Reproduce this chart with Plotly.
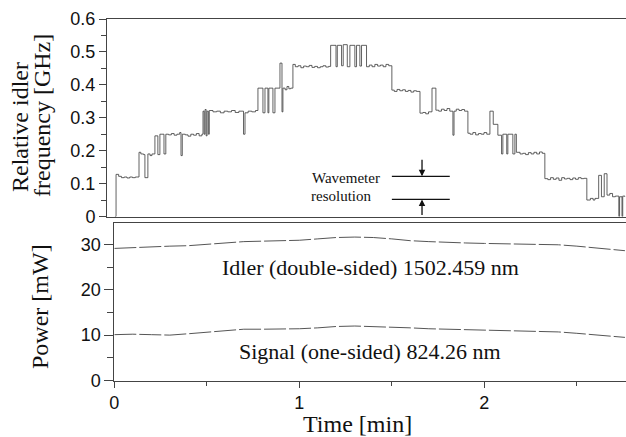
import plotly.graph_objects as go

# ---- Top panel: relative idler frequency (step trace) ----
freq_t = [0.000, 0.006, 0.020, 0.035, 0.050, 0.065, 0.080, 0.095, 0.110, 0.130, 0.140, 0.155, 0.162,
          0.178, 0.190, 0.200, 0.216, 0.232, 0.243, 0.265, 0.275, 0.290, 0.305, 0.320, 0.335, 0.350,
          0.357, 0.364, 0.380, 0.395, 0.410, 0.425, 0.440, 0.455, 0.470, 0.476, 0.482, 0.487, 0.493,
          0.498, 0.505, 0.510, 0.530, 0.550, 0.570, 0.590, 0.610, 0.630, 0.650, 0.670, 0.695, 0.703,
          0.720, 0.740, 0.760, 0.773, 0.800, 0.811, 0.827, 0.832, 0.854, 0.865, 0.892, 0.903, 0.908,
          0.920, 0.930, 0.940, 0.950, 0.962, 0.975, 0.990, 1.005, 1.020, 1.035, 1.050, 1.065, 1.080,
          1.095, 1.110, 1.125, 1.140, 1.155, 1.166, 1.195, 1.202, 1.225, 1.234, 1.256, 1.270, 1.297,
          1.306, 1.324, 1.333, 1.360, 1.375, 1.390, 1.405, 1.420, 1.435, 1.450, 1.465, 1.480, 1.497,
          1.510, 1.525, 1.540, 1.555, 1.570, 1.585, 1.600, 1.615, 1.630, 1.649, 1.665, 1.680, 1.695,
          1.714, 1.735, 1.750, 1.765, 1.780, 1.795, 1.810, 1.827, 1.833, 1.845, 1.860, 1.875, 1.890,
          1.908, 1.920, 1.935, 1.950, 1.965, 1.980, 1.995, 2.010, 2.027, 2.045, 2.070, 2.090, 2.097,
          2.118, 2.124, 2.151, 2.162, 2.170, 2.190, 2.205, 2.220, 2.235, 2.250, 2.265, 2.280, 2.295,
          2.310, 2.324, 2.340, 2.355, 2.370, 2.385, 2.400, 2.415, 2.430, 2.445, 2.460, 2.475, 2.490,
          2.505, 2.520, 2.535, 2.551, 2.570, 2.585, 2.595, 2.615, 2.630, 2.645, 2.660, 2.675, 2.690,
          2.705, 2.724, 2.728, 2.741, 2.745, 2.757]
freq_ghz = [0.000, 0.128, 0.122, 0.118, 0.120, 0.117, 0.120, 0.118, 0.120, 0.195, 0.190, 0.188, 0.118,
            0.190, 0.185, 0.190, 0.245, 0.188, 0.250, 0.190, 0.250, 0.248, 0.252, 0.247, 0.250, 0.255,
            0.185, 0.250, 0.248, 0.244, 0.250, 0.247, 0.252, 0.245, 0.250, 0.320, 0.250, 0.325, 0.245,
            0.320, 0.250, 0.322, 0.318, 0.320, 0.315, 0.320, 0.318, 0.322, 0.316, 0.320, 0.250, 0.315,
            0.320, 0.318, 0.322, 0.390, 0.315, 0.390, 0.315, 0.390, 0.315, 0.390, 0.466, 0.318, 0.390,
            0.385, 0.395, 0.388, 0.390, 0.462, 0.455, 0.458, 0.452, 0.457, 0.455, 0.459, 0.453, 0.456,
            0.452, 0.455, 0.458, 0.454, 0.456, 0.520, 0.455, 0.520, 0.458, 0.522, 0.455, 0.520, 0.455,
            0.520, 0.457, 0.520, 0.455, 0.460, 0.455, 0.462, 0.457, 0.460, 0.455, 0.462, 0.458, 0.384,
            0.380, 0.386, 0.382, 0.385, 0.380, 0.383, 0.378, 0.382, 0.380, 0.314, 0.316, 0.312, 0.318,
            0.390, 0.323, 0.320, 0.326, 0.322, 0.328, 0.320, 0.247, 0.320, 0.326, 0.322, 0.325, 0.320,
            0.253, 0.250, 0.255, 0.248, 0.252, 0.250, 0.255, 0.250, 0.320, 0.280, 0.247, 0.190, 0.250,
            0.190, 0.250, 0.190, 0.250, 0.195, 0.190, 0.192, 0.188, 0.194, 0.190, 0.195, 0.190, 0.196,
            0.192, 0.115, 0.112, 0.118, 0.113, 0.117, 0.110, 0.118, 0.114, 0.116, 0.112, 0.117, 0.113,
            0.118, 0.115, 0.116, 0.050, 0.055, 0.050, 0.055, 0.125, 0.060, 0.130, 0.065, 0.070, 0.060,
            0.062, 0.000, 0.060, 0.000, 0.062, 0.060]

# ---- Bottom panel: power ----
power_t = [0.0, 0.1, 0.2, 0.3, 0.4, 0.5, 0.6, 0.7, 0.8, 0.9, 1.0, 1.1, 1.2, 1.3, 1.4, 1.5,
           1.6, 1.7, 1.8, 1.9, 2.0, 2.1, 2.2, 2.3, 2.4, 2.5, 2.6, 2.7, 2.76]
idler_mw = [29.1, 29.3, 29.5, 29.6, 29.7, 30.0, 30.3, 30.6, 30.7, 30.8, 30.9, 31.2, 31.5, 31.6, 31.5,
            31.2, 30.8, 30.6, 30.4, 30.3, 30.2, 30.1, 30.0, 30.0, 29.9, 29.6, 29.2, 28.8, 28.6]
signal_mw = [10.1, 10.2, 10.1, 10.0, 10.3, 10.6, 11.0, 11.3, 11.3, 11.3, 11.4, 11.6, 11.9, 12.0, 11.9,
             11.8, 11.6, 11.4, 11.3, 11.2, 11.1, 11.0, 11.0, 10.9, 10.7, 10.4, 10.1, 9.7, 9.5]

# wavemeter resolution marker (data units)
res_low, res_high = 0.052, 0.122
res_x0, res_x1, res_xa = 1.497, 1.81, 1.66
res_arrow_top = 0.177

top_ticks = [0, 0.1, 0.2, 0.3, 0.4, 0.5, 0.6]
top_ticklabels = ["0", "0.1", "0.2", "0.3", "0.4", "0.5", "0.6"]
bot_yticks = [0, 10, 20, 30]
bot_xticks = [0, 1, 2]

W, H = 626, 437
SANS = "Liberation Sans, Arial, sans-serif"
SERIF = "Liberation Serif, Times New Roman, serif"
AX = "#444444"

fig = go.Figure()
fig.add_trace(go.Scatter(x=freq_t, y=freq_ghz, mode="lines", line=dict(color="#3a3a3a", width=0.8, shape="hv"),
                         xaxis="x", yaxis="y", showlegend=False))
fig.add_trace(go.Scatter(x=power_t, y=idler_mw, mode="lines", line=dict(color="#555555", width=1, dash="22px,3px"),
                         xaxis="x2", yaxis="y2", showlegend=False))
fig.add_trace(go.Scatter(x=power_t, y=signal_mw, mode="lines", line=dict(color="#555555", width=1, dash="22px,3px"),
                         xaxis="x2", yaxis="y2", showlegend=False))

fig.update_layout(
    width=W, height=H, margin=dict(l=0, r=0, t=0, b=0, autoexpand=False),
    paper_bgcolor="white", plot_bgcolor="white", showlegend=False,
    xaxis=dict(domain=[107 / W, 625.5 / W], range=[-0.043, 2.76], showline=True, mirror=True,
               linecolor=AX, linewidth=1, ticks="", showticklabels=False, showgrid=False, zeroline=False,
               anchor="y", automargin=False),
    yaxis=dict(domain=[1 - 216.5 / H, 1 - 19 / H], range=[0, 0.6], showline=True, mirror=True,
               linecolor=AX, linewidth=1, ticks="outside", ticklen=7, tickcolor=AX,
               tickvals=top_ticks, ticktext=top_ticklabels, showgrid=False, zeroline=False,
               tickfont=dict(family=SANS, size=18, color="#111"), automargin=False,
               minor=dict(dtick=0.05, tick0=0, ticks="outside", ticklen=5, tickcolor=AX, showgrid=False),
               anchor="x"),
    xaxis2=dict(domain=[114.3 / W, 625.5 / W], range=[0, 2.763], showline=True, mirror=True,
                linecolor=AX, linewidth=1, ticks="outside", ticklen=6, tickcolor=AX, tickvals=bot_xticks,
                showgrid=False, zeroline=False, tickfont=dict(family=SANS, size=18, color="#111"),
                automargin=False,
                minor=dict(dtick=0.5, tick0=0, ticks="outside", ticklen=4, tickcolor=AX, showgrid=False),
                anchor="y2"),
    yaxis2=dict(domain=[1 - 380.5 / H, 1 - 223 / H], range=[0, 34.7], showline=True, mirror=True,
                linecolor=AX, linewidth=1, ticks="outside", ticklen=9, tickcolor=AX, tickvals=bot_yticks,
                showgrid=False, zeroline=False, tickfont=dict(family=SANS, size=18, color="#111"),
                automargin=False,
                minor=dict(dtick=5, tick0=0, ticks="outside", ticklen=6, tickcolor=AX, showgrid=False),
                anchor="x2"),
)

# resolution marker lines
for yv in (res_high, res_low):
    fig.add_shape(type="line", xref="x", yref="y", x0=res_x0, x1=res_x1, y0=yv, y1=yv,
                  line=dict(color="#111", width=1.3))
fig.add_annotation(xref="x", yref="y", x=res_xa, y=res_high, axref="x", ayref="y", ax=res_xa, ay=res_arrow_top,
                   showarrow=True, arrowhead=2, arrowsize=1, arrowwidth=1.3, arrowcolor="#111", text="")
fig.add_annotation(xref="x", yref="y", x=res_xa, y=res_low, axref="x", ayref="y", ax=res_xa, ay=0,
                   showarrow=True, arrowhead=2, arrowsize=1, arrowwidth=1.3, arrowcolor="#111", text="")

def txt(px, py, s, size, angle=0):
    fig.add_annotation(x=px / W, y=1 - py / H, xref="paper", yref="paper", text=s, showarrow=False,
                       textangle=angle, font=dict(family=SERIF, size=size, color="#111"),
                       xanchor="center", yanchor="middle")

txt(346, 178, "Wavemeter", 15)
txt(341, 196, "resolution", 15)
txt(20, 127, "Relative idler", 24, -90)
txt(42, 116, "frequency [GHz]", 24, -90)
txt(40, 307, "Power [mW]", 24, -90)
txt(357, 424, "Time [min]", 24)
txt(370, 267, "Idler (double-sided) 1502.459 nm", 22)
txt(370, 351, "Signal (one-sided) 824.26 nm", 22)

fig.write_html("out.html")
